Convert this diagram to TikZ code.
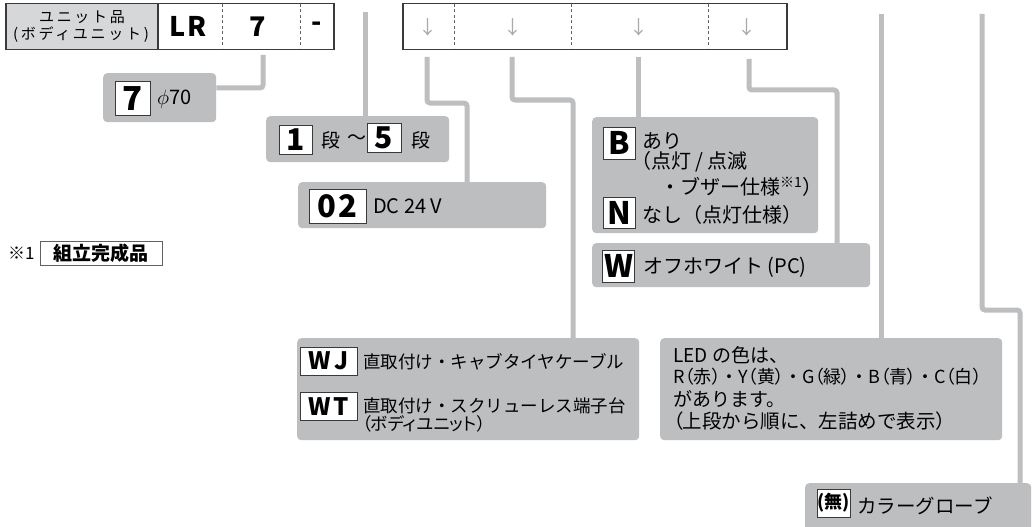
\documentclass[tikz,border=0pt]{standalone}
\usepackage{fontspec}
\setmainfont{Noto Sans CJK JP}
\newfontfamily\jpp{Noto Sans CJK JP}[RawFeature=+palt]
\newfontfamily\jpls{Noto Sans CJK JP}[LetterSpace=18]
\usetikzlibrary{calc}
\definecolor{boxgray}{HTML}{BCBEC0}
\definecolor{cellgray}{HTML}{D6D7D8}
\definecolor{framec}{HTML}{3A3A3A}
\definecolor{arrowgray}{HTML}{A7A9AC}
\newcommand\fsz[1]{\fontsize{#1}{#1}\selectfont}
\begin{document}
\begin{tikzpicture}[x=1pt,y=-1pt,
  gbox/.style={fill=boxgray, rounded corners=4pt, inner sep=0pt, anchor=north west},
  conn/.style={draw=boxgray, line width=5pt, rounded corners=3pt},
  keybox/.style={draw=framec, line width=1pt, fill=white, inner sep=0pt, font=\bfseries},
  txt/.style={anchor=west, inner sep=0pt},
  cellframe/.style={draw=framec, line width=1.5pt, inner sep=0pt, anchor=north west},
  sep/.style={draw=framec!80, line width=0.9pt, dash pattern=on 3pt off 2.5pt},
  arr/.style={text=arrowgray, font=\fsz{19}, inner sep=0pt}]
\useasboundingbox[fill=white] (0,0) rectangle (1034,527);

% ---- top code boxes
\node[cellframe, fill=cellgray, minimum width=152pt, minimum height=46pt] (cunit) at (5,3) {};
\node[cellframe, fill=white, minimum width=176pt, minimum height=46pt] (cmain) at (157,3) {};
\node[cellframe, fill=white, minimum width=384pt, minimum height=46pt] (cfree) at (402,3) {};
\draw[sep] (222,4) -- (222,48);
\draw[sep] (300,4) -- (300,48);
\draw[sep] (454,4) -- (454,48);
\draw[sep] (571,4) -- (571,48);
\draw[sep] (708,4) -- (708,48);

\node[font=\fsz{15}, inner sep=0pt] (tunit1) at (82,17.5) {\jpls ユニット品};
\node[font=\fsz{15}, inner sep=0pt] (tunit2) at (81,34.5) {\jpls (ボディユニット)};
\node[font=\bfseries\fsz{27}, inner sep=0pt] (tLR) at (188,26.5) {L\kern1pt R};
\node[font=\bfseries\fsz{27}, inner sep=0pt] (t7) at (258,26.5) {7};
\node[font=\bfseries\fsz{27}, inner sep=0pt] (tdash) at (317,26.5) {-};

\node[arr] (ar1) at (428,27) {↓};
\node[arr] (ar2) at (513,27) {↓};
\node[arr] (ar3) at (639,27) {↓};
\node[arr] (ar4) at (747,27) {↓};

% ---- connector start points
\coordinate (s7) at (263,55);
\coordinate (s2) at (365,12);
\coordinate (sa) at (427,57);
\coordinate (sb) at (512,57);
\coordinate (sc) at (638,57);
\coordinate (sd) at (749,59);
\coordinate (se) at (881,14);
\coordinate (sf) at (982,14);

% ---- gray option boxes
\node[gbox, minimum width=113pt, minimum height=49pt] (b7) at (103,73) {};
\node[gbox, minimum width=183pt, minimum height=46pt] (bdan) at (266,116) {};
\node[gbox, minimum width=248pt, minimum height=46pt] (b02) at (298,182) {};
\node[gbox, minimum width=226pt, minimum height=116pt] (bbn) at (592,117) {};
\node[gbox, minimum width=278pt, minimum height=44pt] (bw) at (592,243) {};
\node[gbox, minimum width=342pt, minimum height=102pt] (bwj) at (297,338) {};
\node[gbox, minimum width=342pt, minimum height=102pt] (bled) at (660,338) {};
\node[gbox, minimum width=226pt, minimum height=50pt] (bglove) at (805,483) {};

% ---- connectors
\draw[conn] (s7) |- ([yshift=-15pt]b7.north east);
\draw[conn] (s2) -- (s2 |- bdan.north);
\draw[conn] (sa) |- (467,103) -- (467,0 |- b02.north);
\draw[conn] (sb) |- (573,100) -- (573,0 |- bwj.north);
\draw[conn] (sc) -- (sc |- bbn.north);
\draw[conn] (sd) |- (837,90) -- (837,0 |- bw.north);
\draw[conn] (se) -- (se |- bled.north);
\draw[conn] (sf) |- (1020,310) -- (1020,0 |- bglove.north);

% ---- box 7
\node[keybox, minimum width=35pt, minimum height=33pt, font=\bfseries\fsz{33}] (k7) at (132.5,98.5) {7};
\node[txt, font=\fsz{20}] (tphi) at (157,99) {$\phi$70};

% ---- box 1..5
\node[keybox, minimum width=33pt, minimum height=29pt, font=\bfseries\fsz{30}] (k1) at (295.5,139.5) {1};
\node[inner sep=0pt, font=\fsz{19}] (tdan1) at (331,140) {段};
\node[inner sep=0pt, font=\fsz{19}] (ttilde) at (357,140) {〜};
\node[keybox, minimum width=34pt, minimum height=29pt, font=\bfseries\fsz{30}] (k5) at (384,138) {5};
\node[inner sep=0pt, font=\fsz{19}] (tdan2) at (421,140) {段};

% ---- box 02
\node[keybox, minimum width=57pt, minimum height=34pt, font=\bfseries\fsz{31}] (k02) at (337.5,206) {0\kern2pt 2};
\node[txt, font=\fsz{20}] (tdc) at (373,206) {DC 24 V};

% ---- box B / N
\node[keybox, minimum width=32pt, minimum height=32pt, font=\bfseries\fsz{31}] (kB) at (619,143) {B};
\node[txt, font=\fsz{20}] (tB1) at (642,141) {あり};
\node[txt, font=\fsz{20}] (tB2) at (641,162) {\jpp（点灯 / 点滅};
\node[txt, font=\fsz{20}] (tB3) at (660,187) {・ブザー仕様\textsuperscript{※1}）};
\node[keybox, minimum width=32pt, minimum height=31pt, font=\bfseries\fsz{31}] (kN) at (619,212.5) {N};
\node[txt, font=\fsz{20}] (tN) at (642,215) {なし（点灯仕様）};

% ---- box W
\node[keybox, minimum width=32pt, minimum height=32pt, font=\bfseries\fsz{31}] (kW) at (618.5,266) {W};
\node[txt, font=\fsz{20}] (tW) at (643,267) {オフホワイト (PC)};

% ---- box WJ / WT
\node[keybox, minimum width=57pt, minimum height=28pt, font=\bfseries\fsz{24}] (kWJ) at (328.5,361) {W\kern3pt J};
\node[txt, font=\fsz{17.5}] (tWJ) at (363,362) {直取付け・キャブタイヤケーブル};
\node[keybox, minimum width=57pt, minimum height=28pt, font=\bfseries\fsz{24}] (kWT) at (328.5,406.5) {W\kern2pt T};
\node[txt, font=\fsz{17.5}] (tWT1) at (363,406) {直取付け・スクリューレス端子台};
\node[txt, font=\fsz{17.5}] (tWT2) at (362,424) {\jpp（ボディユニット）};

% ---- LED box
\node[txt, font=\fsz{19}] (tL1) at (673,355) {LED の色は、};
\node[txt, font=\fsz{18}] (tL2) at (673,377) {R{\jpp（}赤{\jpp）}・Y{\jpp（}黄{\jpp）}・G{\jpp（}緑{\jpp）}・B{\jpp（}青{\jpp）}・C{\jpp（}白{\jpp）}};
\node[txt, font=\fsz{19}] (tL3) at (673,399) {があります。};
\node[txt, font=\fsz{19.5}] (tL4) at (673,421) {{\jpp（}上段から順に、左詰めで表示{\jpp）}};

% ---- glove box
\node[keybox, minimum width=33pt, minimum height=28pt, font=\bfseries\fsz{18}] (kglove) at (833.5,503) {(無)};
\node[txt, font=\fsz{19.5}] (tglove) at (857,506) {カラーグローブ};

% ---- footnote
\node[txt, font=\fsz{17}] (tnote) at (8,253) {※1};
\node[keybox, draw=framec!80, line width=0.9pt, minimum width=122pt, minimum height=24pt, font=\bfseries\fsz{19}] (knote) at (101,253) {組立完成品};
\end{tikzpicture}
\end{document}
